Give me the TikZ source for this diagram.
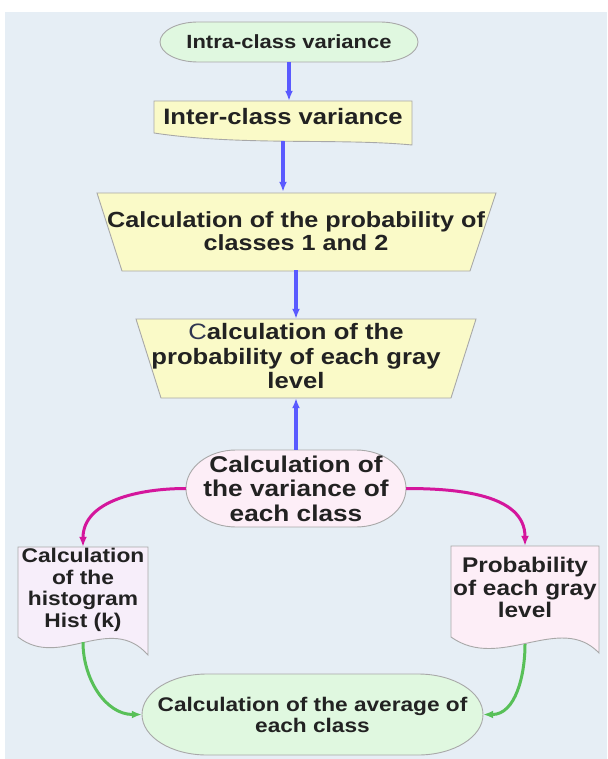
\documentclass[tikz,border=0pt]{standalone}
\usepackage{fontspec}
\setmainfont{Liberation Sans}[FakeStretch=1.15]
\usetikzlibrary{arrows.meta}
\definecolor{bgc}{HTML}{E6EEF5}
\definecolor{gfill}{HTML}{E0F8E0}
\definecolor{yfill}{HTML}{FAFAC8}
\definecolor{pfill}{HTML}{FDEEF7}
\definecolor{lfill}{HTML}{F7EEFA}
\definecolor{edgec}{HTML}{A8A8A8}
\definecolor{txt}{HTML}{222222}
\definecolor{cdark}{HTML}{2F3550}
\definecolor{bluec}{HTML}{5A5AFF}
\definecolor{magc}{HTML}{D4169C}
\definecolor{greenc}{HTML}{58C058}
\newcommand{\fs}[2]{\fontsize{#1}{#2}\selectfont}
% stadium with elliptical ends: x1 y1 x2 y2 rx fill
\newcommand{\stadshape}[6]{%
  \pgfmathsetmacro\stRy{(#4-#2)/2}%
  \pgfmathsetmacro\stCy{(#2+#4)/2}%
  \pgfmathsetmacro\stA{#1+#5}%
  \pgfmathsetmacro\stB{#3-#5}%
  \pgfmathsetmacro\stKx{0.552*#5}%
  \pgfmathsetmacro\stKy{0.552*\stRy}%
  \draw[shp, fill=#6] (\stA,#2) -- (\stB,#2)
    .. controls (\stB+\stKx,#2) and (#3,\stCy-\stKy) .. (#3,\stCy)
    .. controls (#3,\stCy+\stKy) and (\stB+\stKx,#4) .. (\stB,#4)
    -- (\stA,#4)
    .. controls (\stA-\stKx,#4) and (#1,\stCy+\stKy) .. (#1,\stCy)
    .. controls (#1,\stCy-\stKy) and (\stA-\stKx,#2) .. (\stA,#2) -- cycle;}
\begin{document}
\begin{tikzpicture}[x=1pt,y=-1pt,
  shp/.style={draw=edgec, line width=0.9pt},
  lbl/.style={text=txt, align=center, inner sep=0pt, font=\bfseries},
  anch/.style={draw=none, inner sep=0pt},
  tip/.style={-{Latex[length=10pt,width=8pt]}},
  blu/.style={draw=bluec, line width=3.2pt, tip},
  mag/.style={draw=magc, line width=3pt, tip},
  grn/.style={draw=greenc, line width=3pt, tip}]
\useasboundingbox (0,0) rectangle (607,759);
\fill[white] (0,0) rectangle (607,759);
\fill[bgc] (5,12) rectangle (607,759);

% Intra-class variance
\stadshape{160}{22}{418}{62}{38}{gfill}
\node[lbl, anch, minimum width=258pt, minimum height=40pt,
      font=\bfseries\fs{19.1}{22}] (intra) at (289,42) {Intra-class variance};

% Inter-class variance (document shape)
\node[anch, minimum width=258pt, minimum height=40pt] (inter) at (283,121) {};
\draw[shp, fill=yfill] (154,101) -- (412,101) -- (412,145)
   .. controls (340,138) and (240,146) .. (154,133) -- cycle;
\node[lbl, font=\bfseries\fs{22.3}{25}] (interT) at (283,117) {Inter-class variance};

% Trapezium 1
\draw[shp, fill=yfill] (97,193) -- (496,193) -- (470,271) -- (122,271) -- cycle;
\node[lbl, minimum height=78pt, font=\bfseries\fs{21.9}{23.5}] (cp12) at (296,231)
  {Calculation of the probability of\\classes 1 and 2};

% Trapezium 2
\draw[shp, fill=yfill] (136,319) -- (476,319) -- (451,398) -- (161,398) -- cycle;
\node[anch, minimum width=300pt, minimum height=79pt] (cpg) at (296,358.5) {};
\node[lbl, font=\bfseries\fs{22.3}{24.5}] (cpgT) at (296,356.5)
  {{\mdseries\color{cdark}C}alculation of the\\probability of each gray\\level};

% Variance of each class
\stadshape{186}{450}{406}{527}{50}{pfill}
\node[lbl, anch, minimum width=220pt, minimum height=77pt,
      font=\bfseries\fs{22.8}{24.5}] (var) at (296,488.5)
  {Calculation of\\the variance of\\each class};

% Histogram (document shape)
\node[anch, minimum width=130pt, minimum height=95pt] (hist) at (83,594.5) {};
\draw[shp, fill=lfill] (18,547) -- (148,547) -- (148,655)
   .. controls (110,612) and (60,670) .. (18,637) -- cycle;
\node[lbl, font=\bfseries\fs{19.8}{21.7}] (histT) at (83,590)
  {Calculation\\of the\\histogram\\Hist (k)};

% Probability of each gray level (document shape)
\node[anch, minimum width=148pt, minimum height=98pt] (pgl) at (525,595) {};
\draw[shp, fill=pfill] (451,546) -- (599,546) -- (599,653)
   .. controls (560,612) and (500,672) .. (451,637) -- cycle;
\node[lbl, font=\bfseries\fs{21.2}{22.5}] (pglT) at (525,587.5)
  {Probability\\of each gray\\level};

% Average of each class
\stadshape{142}{674}{483}{755}{65}{gfill}
\node[lbl, anch, minimum width=341pt, minimum height=81pt,
      font=\bfseries\fs{19.7}{21}] (avg) at (312.5,714.5)
  {Calculation of the average of\\each class};

% Connectors
\draw[blu] (intra.south) -- (intra.south |- inter.north);
\draw[blu] (inter.south) -- (inter.south |- cp12.north);
\draw[blu] (cp12.south) -- (cpg.north);
\draw[blu] (var.north) -- (cpg.south);
\draw[mag] (var.west) to[out=180, in=90] (hist.north);
\draw[mag] (var.east) to[out=0, in=90] (pgl.north);
\draw[grn] (hist.south) to[out=-90, in=180] (avg.west);
\draw[grn] (pgl.south) to[out=-90, in=0] (avg.east);
\end{tikzpicture}
\end{document}
